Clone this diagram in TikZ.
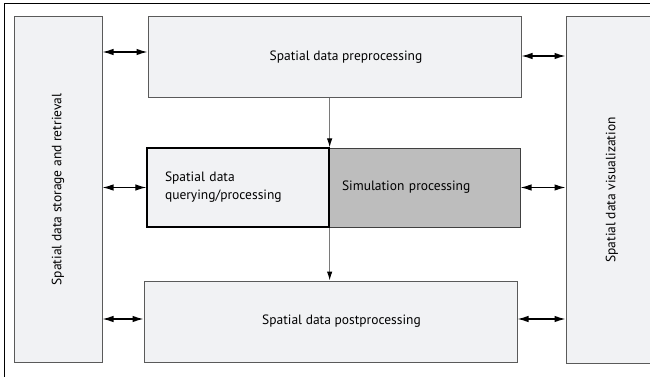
\documentclass[tikz,border=0pt]{standalone}
\usepackage{fontspec}
\setmainfont{PT Sans}
\usetikzlibrary{arrows.meta}
\definecolor{boxfill}{HTML}{F1F2F4}
\definecolor{simfill}{HTML}{BDBDBD}
\definecolor{boxline}{HTML}{5A5A5A}
\definecolor{vline}{HTML}{7A7A7A}
\tikzset{
  box/.style={draw=boxline,fill=boxfill,line width=1pt,inner sep=0pt,font=\fontsize{13.5}{18}\selectfont},
  dblarr/.style={{Latex[length=11pt,width=6.5pt]}-{Latex[length=11pt,width=6.5pt]},line width=1.2pt,black},
  downarr/.style={-{Latex[length=9pt,width=5.5pt,color=black]},line width=1pt,vline}
}
\begin{document}
\begin{tikzpicture}[x=1pt,y=-1pt]
\useasboundingbox (0,0) rectangle (650,377);
\draw[line width=1pt] (4,377) -- (4,4) -- (650,4);
\node[box,minimum width=88,minimum height=345] (store) at (58,189.5) {\rotatebox{90}{Spatial data storage and retrieval}};
\node[box,minimum width=92,minimum height=346] (vis) at (612,190) {\rotatebox{90}{Spatial data visualization}};
\node[box,minimum width=373,minimum height=81] (pre) at (334.5,57.5) {\hspace{23pt}Spatial data preprocessing};
\node[box,fill=simfill,draw=black!75,minimum width=191,minimum height=79,text width=165,inner xsep=13,align=left] (sim) at (424.5,187.5) {Simulation processing};
\node[box,draw=black,line width=1.3pt,minimum width=182,minimum height=79,text width=146,inner xsep=18,align=left] (query) at (238,187.5) {Spatial data\\querying/processing};
\node[box,minimum width=373,minimum height=81] (post) at (330.5,321.5) {\hspace{22pt}Spatial data postprocessing};
\foreach \b/\s in {pre/5.5,query/0,post/2.5}
\draw[dblarr] ([yshift=\s pt]\b.west -| store.east) -- ([yshift=\s pt]\b.west);
\foreach \b/\s in {pre/1.5,sim/0,post/2.5}
\draw[dblarr] ([yshift=\s pt]\b.east) -- ([yshift=\s pt]\b.east -| vis.west);
\draw[downarr] (pre.south -| query.east) -- (query.north east);
\draw[downarr] (query.south east) -- (post.north -| query.east);
\end{tikzpicture}
\end{document}
